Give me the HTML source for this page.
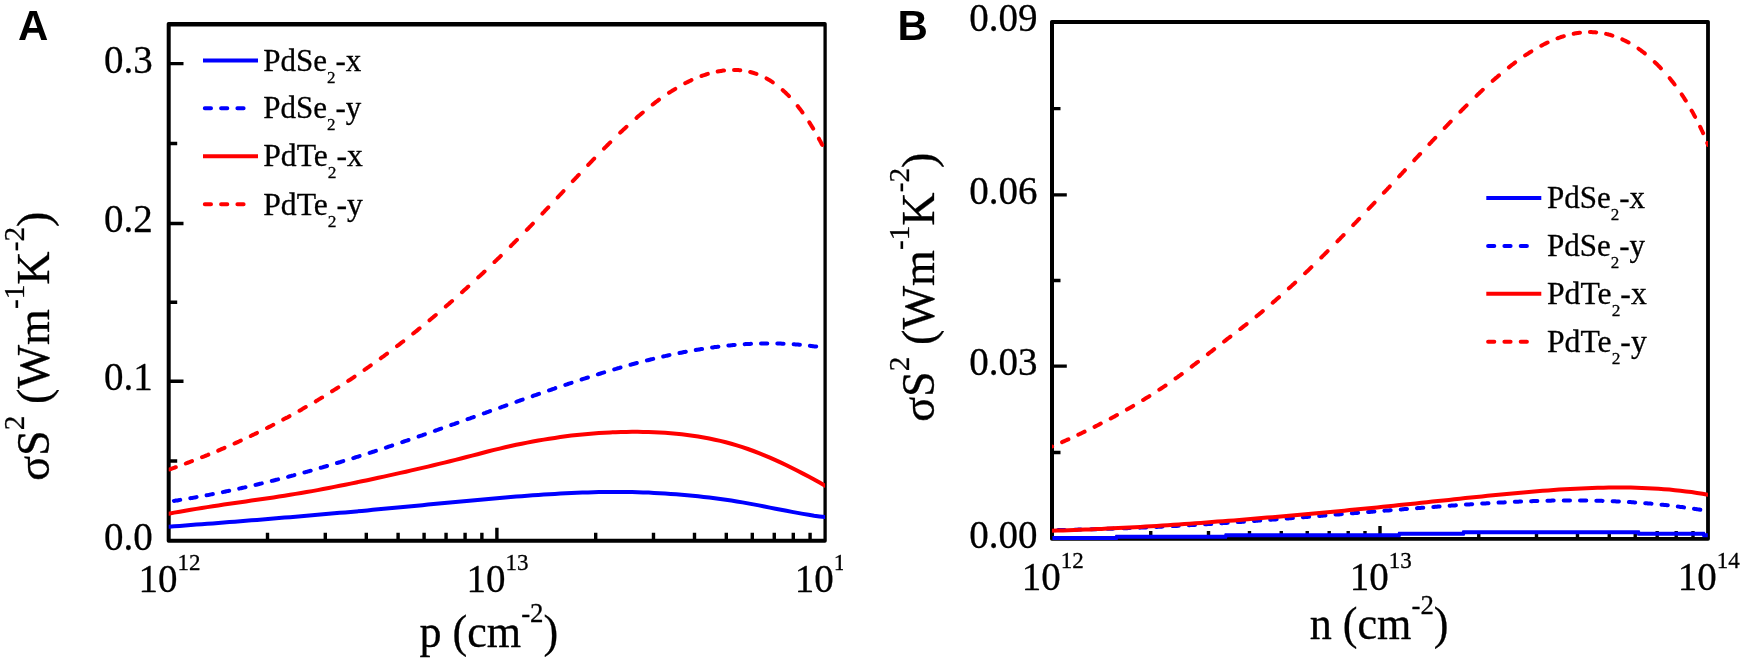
<!DOCTYPE html>
<html lang="en"><head><meta charset="utf-8"><title>Power factor of PdSe2 and PdTe2 monolayers</title>
<style>
html,body{margin:0;padding:0;background:#fff;}
body{width:1743px;height:662px;overflow:hidden;}
svg{display:block;}
svg text{stroke:#000;stroke-width:0.3px;stroke-linejoin:round;}
</style></head><body>
<svg width="1743" height="662" viewBox="0 0 1743 662" font-family='"Liberation Serif", serif' fill="#000" stroke="none">
<rect width="1743" height="662" fill="#fff"/>
<filter id="soft" x="0" y="0" width="100%" height="100%" filterUnits="userSpaceOnUse" color-interpolation-filters="sRGB"><feGaussianBlur stdDeviation="0.55"/></filter>
<g filter="url(#soft)">
<!-- Panel A -->
<path d="M267.50,540.75v-8 M325.29,540.75v-8 M366.30,540.75v-8 M398.10,540.75v-8 M424.09,540.75v-8 M446.06,540.75v-8 M465.09,540.75v-8 M481.88,540.75v-8 M595.70,540.75v-8 M653.49,540.75v-8 M694.50,540.75v-8 M726.30,540.75v-8 M752.29,540.75v-8 M774.26,540.75v-8 M793.29,540.75v-8 M810.08,540.75v-8 M496.90,540.75v-13 M168.70,381.20h14.8 M168.70,223.45h14.8 M168.70,63.65h14.8 M168.70,461.00h8.5 M168.70,302.30h8.5 M168.70,143.50h8.5" stroke="#000" stroke-width="3.4" fill="none"/>
<path fill="#000" fill-rule="evenodd" d="M168.50,22.00H824.95Q826.75,22.00 826.75,23.80V541.05Q826.75,542.85 824.95,542.85H168.50Q166.70,542.85 166.70,541.05V23.80Q166.70,22.00 168.50,22.00Z M170.70,26.40V538.65H823.45V26.40Z"/>
<clipPath id="clipA"><rect x="168.7" y="24.2" width="656.40" height="519.55"/></clipPath>
<g clip-path="url(#clipA)" fill="none" stroke-width="4.0" stroke-linecap="round">
<path d="M168.7,526.7 L174.2,526.3 L179.7,525.9 L185.2,525.5 L190.8,525.1 L196.3,524.6 L201.8,524.2 L207.3,523.8 L212.8,523.4 L218.3,523.0 L223.9,522.5 L229.4,522.1 L234.9,521.7 L240.4,521.2 L245.9,520.8 L251.4,520.3 L257.0,519.9 L262.5,519.5 L268.0,519.0 L273.5,518.5 L279.0,518.1 L284.5,517.6 L290.1,517.2 L295.6,516.7 L301.1,516.2 L306.6,515.7 L312.1,515.3 L317.6,514.8 L323.1,514.3 L328.7,513.8 L334.2,513.3 L339.7,512.8 L345.2,512.4 L350.7,511.9 L356.2,511.4 L361.8,510.9 L367.3,510.4 L372.8,509.8 L378.3,509.3 L383.8,508.8 L389.3,508.3 L394.9,507.8 L400.4,507.3 L405.9,506.7 L411.4,506.2 L416.9,505.7 L422.4,505.2 L428.0,504.6 L433.5,504.1 L439.0,503.6 L444.5,503.0 L450.0,502.5 L455.5,502.0 L461.0,501.5 L466.6,501.0 L472.1,500.4 L477.6,499.9 L483.1,499.4 L488.6,498.9 L494.1,498.5 L499.7,498.0 L505.2,497.5 L510.7,497.1 L516.2,496.6 L521.7,496.2 L527.2,495.7 L532.8,495.3 L538.3,494.9 L543.8,494.6 L549.3,494.2 L554.8,493.9 L560.3,493.6 L565.8,493.3 L571.4,493.0 L576.9,492.8 L582.4,492.6 L587.9,492.4 L593.4,492.2 L598.9,492.1 L604.5,492.0 L610.0,492.0 L615.5,492.0 L621.0,492.0 L626.5,492.0 L632.0,492.1 L637.6,492.3 L643.1,492.4 L648.6,492.6 L654.1,492.9 L659.6,493.2 L665.1,493.5 L670.7,493.9 L676.2,494.3 L681.7,494.7 L687.2,495.2 L692.7,495.7 L698.2,496.3 L703.7,496.9 L709.3,497.6 L714.8,498.3 L720.3,499.0 L725.8,499.8 L731.3,500.6 L736.8,501.5 L742.4,502.4 L747.9,503.4 L753.4,504.4 L758.9,505.4 L764.4,506.5 L769.9,507.6 L775.5,508.7 L781.0,509.8 L786.5,510.8 L792.0,511.9 L797.5,512.9 L803.0,513.9 L808.6,514.8 L814.1,515.7 L819.6,516.4 L825.1,517.1" stroke="#0000ff"/>
<path d="M173.9,500.9 L174.8,500.8 L175.8,500.6 L176.6,500.5 L177.5,500.4 L178.4,500.2 L179.3,500.1 L180.2,499.9 M190.3,498.2 L191.2,498.1 L192.1,497.9 L193.0,497.8 L193.9,497.6 L194.8,497.4 L195.7,497.3 L196.6,497.1 M206.6,495.3 L207.5,495.1 L208.4,494.9 L209.3,494.8 L210.2,494.6 L211.1,494.4 L212.0,494.2 L212.9,494.1 M222.9,492.1 L223.8,491.9 L224.7,491.7 L225.6,491.5 L226.5,491.3 L227.4,491.1 L228.3,490.9 L229.2,490.8 M239.2,488.6 L240.1,488.4 L241.0,488.2 L241.9,488.0 L242.8,487.8 L243.7,487.6 L244.6,487.4 L245.5,487.2 M255.5,484.9 L256.4,484.7 L257.3,484.5 L258.2,484.3 L259.1,484.0 L260.0,483.8 L260.9,483.6 L261.8,483.4 M271.8,480.9 L272.7,480.7 L273.6,480.5 L274.5,480.3 L275.4,480.0 L276.3,479.8 L277.2,479.6 L278.1,479.4 M288.1,476.8 L289.0,476.5 L289.9,476.3 L290.8,476.1 L291.7,475.8 L292.6,475.6 L293.5,475.4 L294.4,475.1 M304.4,472.4 L305.3,472.2 L306.2,471.9 L307.1,471.7 L308.0,471.4 L308.9,471.2 L309.8,470.9 L310.7,470.7 M320.7,467.8 L321.6,467.6 L322.5,467.3 L323.4,467.0 L324.3,466.8 L325.2,466.5 L326.1,466.3 L327.0,466.0 M337.0,463.0 L337.9,462.8 L338.8,462.5 L339.7,462.2 L340.6,462.0 L341.5,461.7 L342.4,461.4 L343.3,461.1 M353.3,458.1 L354.2,457.8 L355.1,457.5 L356.0,457.2 L356.9,456.9 L357.8,456.7 L358.7,456.4 L359.6,456.1 M369.6,452.9 L370.5,452.6 L371.4,452.3 L372.3,452.0 L373.2,451.7 L374.1,451.5 L375.0,451.2 L375.9,450.9 M385.9,447.6 L386.8,447.3 L387.7,447.0 L388.6,446.7 L389.5,446.4 L390.4,446.1 L391.3,445.8 L392.2,445.5 M402.2,442.1 L403.1,441.8 L404.0,441.5 L404.9,441.2 L405.8,440.9 L406.7,440.6 L407.6,440.3 L408.5,440.0 M418.6,436.5 L419.5,436.2 L420.4,435.9 L421.3,435.6 L422.2,435.3 L423.1,434.9 L424.0,434.6 L424.9,434.3 M434.9,430.8 L435.8,430.5 L436.7,430.2 L437.6,429.9 L438.5,429.5 L439.4,429.2 L440.3,428.9 L441.2,428.6 M451.2,425.0 L452.1,424.7 L453.0,424.4 L453.9,424.1 L454.8,423.8 L455.7,423.4 L456.6,423.1 L457.5,422.8 M467.5,419.2 L468.4,418.9 L469.3,418.6 L470.2,418.3 L471.1,417.9 L472.0,417.6 L472.9,417.3 L473.8,417.0 M483.8,413.4 L484.7,413.1 L485.6,412.8 L486.5,412.4 L487.4,412.1 L488.3,411.8 L489.2,411.5 L490.1,411.1 M500.1,407.6 L501.0,407.3 L501.9,406.9 L502.8,406.6 L503.7,406.3 L504.6,406.0 L505.5,405.7 L506.4,405.3 M516.4,401.8 L517.3,401.5 L518.2,401.1 L519.1,400.8 L520.0,400.5 L520.9,400.2 L521.8,399.9 L522.7,399.6 M532.7,396.1 L533.6,395.7 L534.5,395.4 L535.4,395.1 L536.3,394.8 L537.2,394.5 L538.1,394.2 L539.0,393.9 M549.0,390.4 L549.9,390.1 L550.8,389.8 L551.7,389.5 L552.6,389.2 L553.5,388.9 L554.4,388.6 L555.3,388.2 M565.3,384.9 L566.2,384.6 L567.1,384.3 L568.0,384.0 L568.9,383.7 L569.8,383.4 L570.7,383.1 L571.6,382.8 M581.6,379.5 L582.5,379.2 L583.4,378.9 L584.3,378.6 L585.2,378.3 L586.1,378.0 L587.0,377.8 L587.9,377.5 M597.9,374.3 L598.8,374.0 L599.7,373.8 L600.6,373.5 L601.5,373.2 L602.4,372.9 L603.3,372.6 L604.2,372.4 M614.2,369.4 L615.1,369.1 L616.0,368.9 L616.9,368.6 L617.8,368.3 L618.7,368.1 L619.6,367.8 L620.5,367.5 M630.5,364.7 L631.4,364.5 L632.3,364.2 L633.2,364.0 L634.1,363.8 L635.0,363.5 L635.9,363.3 L636.8,363.0 M646.9,360.4 L647.8,360.2 L648.7,360.0 L649.6,359.8 L650.5,359.5 L651.4,359.3 L652.3,359.1 L653.2,358.9 M663.2,356.5 L664.1,356.3 L665.0,356.1 L665.9,355.9 L666.8,355.7 L667.7,355.5 L668.6,355.3 L669.5,355.1 M679.5,353.0 L680.4,352.8 L681.3,352.7 L682.2,352.5 L683.1,352.3 L684.0,352.1 L684.9,352.0 L685.8,351.8 M695.8,350.0 L696.7,349.8 L697.6,349.7 L698.5,349.5 L699.4,349.4 L700.3,349.2 L701.2,349.1 L702.1,349.0 M712.1,347.5 L713.0,347.4 L713.9,347.2 L714.8,347.1 L715.7,347.0 L716.6,346.9 L717.5,346.8 L718.4,346.7 M728.4,345.5 L729.3,345.4 L730.2,345.4 L731.1,345.3 L732.0,345.2 L732.9,345.1 L733.8,345.0 L734.7,344.9 M744.7,344.2 L745.6,344.1 L746.5,344.1 L747.4,344.0 L748.3,344.0 L749.2,343.9 L750.1,343.9 L751.0,343.8 M761.0,343.5 L761.9,343.5 L762.8,343.5 L763.7,343.5 L764.6,343.4 L765.5,343.4 L766.4,343.4 L767.3,343.4 M777.3,343.5 L778.2,343.5 L779.1,343.6 L780.0,343.6 L780.9,343.6 L781.8,343.7 L782.7,343.7 L783.6,343.7 M793.6,344.3 L794.5,344.3 L795.4,344.4 L796.3,344.5 L797.2,344.5 L798.1,344.6 L799.0,344.7 L799.9,344.8 M809.9,345.8 L810.8,345.9 L811.7,346.0 L812.6,346.2 L813.5,346.3 L814.4,346.4 L815.3,346.5 L816.2,346.6" stroke="#0000ff"/>
<path d="M168.7,513.7 L174.2,512.6 L179.7,511.7 L185.2,510.7 L190.8,509.8 L196.3,508.9 L201.8,508.0 L207.3,507.1 L212.8,506.2 L218.3,505.4 L223.9,504.6 L229.4,503.8 L234.9,503.0 L240.4,502.2 L245.9,501.4 L251.4,500.6 L257.0,499.8 L262.5,499.0 L268.0,498.2 L273.5,497.4 L279.0,496.6 L284.5,495.7 L290.1,494.8 L295.6,493.9 L301.1,493.0 L306.6,492.0 L312.1,491.1 L317.6,490.1 L323.1,489.0 L328.7,488.0 L334.2,486.9 L339.7,485.8 L345.2,484.7 L350.7,483.6 L356.2,482.5 L361.8,481.3 L367.3,480.2 L372.8,479.0 L378.3,477.8 L383.8,476.6 L389.3,475.4 L394.9,474.1 L400.4,472.9 L405.9,471.7 L411.4,470.4 L416.9,469.1 L422.4,467.9 L428.0,466.6 L433.5,465.3 L439.0,463.9 L444.5,462.6 L450.0,461.2 L455.5,459.9 L461.0,458.5 L466.6,457.0 L472.1,455.6 L477.6,454.2 L483.1,452.7 L488.6,451.3 L494.1,449.9 L499.7,448.6 L505.2,447.3 L510.7,446.0 L516.2,444.8 L521.7,443.7 L527.2,442.6 L532.8,441.5 L538.3,440.5 L543.8,439.6 L549.3,438.7 L554.8,437.9 L560.3,437.1 L565.8,436.3 L571.4,435.6 L576.9,435.0 L582.4,434.4 L587.9,433.9 L593.4,433.4 L598.9,433.0 L604.5,432.7 L610.0,432.4 L615.5,432.2 L621.0,432.0 L626.5,431.9 L632.0,431.8 L637.6,431.8 L643.1,431.9 L648.6,432.0 L654.1,432.2 L659.6,432.4 L665.1,432.8 L670.7,433.2 L676.2,433.7 L681.7,434.3 L687.2,434.9 L692.7,435.7 L698.2,436.5 L703.7,437.5 L709.3,438.5 L714.8,439.7 L720.3,440.9 L725.8,442.3 L731.3,443.8 L736.8,445.4 L742.4,447.1 L747.9,449.0 L753.4,451.0 L758.9,453.1 L764.4,455.3 L769.9,457.6 L775.5,460.1 L781.0,462.6 L786.5,465.2 L792.0,468.0 L797.5,470.8 L803.0,473.6 L808.6,476.6 L814.1,479.5 L819.6,482.6 L825.1,485.7" stroke="#ff0000"/>
<path d="M169.5,469.4 L170.4,469.1 L171.3,468.8 L172.2,468.5 L173.1,468.1 L174.0,467.8 L174.9,467.5 L175.8,467.2 M185.8,463.5 L186.6,463.2 L187.5,462.8 L188.4,462.5 L189.3,462.2 L190.2,461.8 L191.1,461.5 L192.0,461.1 M202.0,457.2 L202.9,456.9 L203.8,456.5 L204.7,456.2 L205.6,455.8 L206.5,455.4 L207.4,455.1 L208.3,454.7 M218.2,450.6 L219.1,450.2 L220.0,449.8 L220.9,449.4 L221.8,449.0 L222.8,448.7 L223.6,448.3 L224.5,447.9 M234.5,443.5 L235.4,443.1 L236.3,442.7 L237.2,442.3 L238.1,441.9 L239.0,441.5 L239.9,441.0 L240.8,440.6 M250.8,436.0 L251.6,435.6 L252.5,435.1 L253.4,434.7 L254.3,434.3 L255.2,433.8 L256.1,433.4 L257.0,432.9 M267.0,428.0 L267.9,427.6 L268.8,427.1 L269.7,426.7 L270.6,426.2 L271.5,425.7 L272.4,425.3 L273.3,424.8 M283.2,419.6 L284.1,419.1 L285.0,418.6 L285.9,418.1 L286.8,417.7 L287.8,417.2 L288.6,416.7 L289.5,416.2 M299.5,410.7 L300.4,410.2 L301.3,409.7 L302.2,409.1 L303.1,408.6 L304.0,408.1 L304.9,407.6 L305.8,407.1 M315.8,401.3 L316.6,400.7 L317.6,400.2 L318.5,399.6 L319.4,399.1 L320.2,398.6 L321.1,398.0 L322.1,397.5 M332.0,391.3 L332.9,390.8 L333.8,390.2 L334.7,389.6 L335.6,389.1 L336.5,388.5 L337.4,387.9 L338.3,387.3 M348.2,380.9 L349.1,380.3 L350.1,379.7 L351.0,379.1 L351.9,378.5 L352.8,377.9 L353.6,377.3 L354.6,376.6 M364.5,369.8 L365.4,369.2 L366.3,368.6 L367.2,367.9 L368.1,367.3 L369.0,366.7 L369.9,366.0 L370.8,365.4 M380.8,358.3 L381.6,357.6 L382.6,356.9 L383.5,356.3 L384.4,355.6 L385.2,355.0 L386.1,354.3 L387.1,353.6 M397.0,346.1 L397.9,345.5 L398.8,344.8 L399.7,344.1 L400.6,343.4 L401.5,342.7 L402.4,342.0 L403.3,341.3 M413.2,333.5 L414.1,332.8 L415.1,332.0 L416.0,331.3 L416.9,330.6 L417.8,329.9 L418.6,329.1 L419.6,328.4 M429.5,320.3 L430.4,319.5 L431.3,318.8 L432.2,318.0 L433.1,317.3 L434.0,316.5 L434.9,315.7 L435.8,315.0 M445.8,306.5 L446.6,305.7 L447.6,304.9 L448.4,304.2 L449.4,303.4 L450.2,302.6 L451.2,301.8 L452.1,301.0 M462.0,292.2 L462.9,291.4 L463.8,290.6 L464.7,289.8 L465.6,289.0 L466.5,288.2 L467.4,287.3 L468.3,286.5 M478.2,277.4 L479.1,276.5 L480.1,275.7 L480.9,274.9 L481.9,274.0 L482.8,273.2 L483.7,272.3 L484.6,271.5 M494.5,262.0 L495.4,261.1 L496.3,260.3 L497.2,259.4 L498.1,258.5 L499.0,257.7 L499.9,256.8 L500.8,255.9 M510.8,246.1 L511.6,245.2 L512.5,244.3 L513.4,243.4 L514.3,242.5 L515.2,241.6 L516.1,240.7 L517.0,239.8 M526.8,229.9 L527.7,229.0 L528.6,228.1 L529.4,227.2 L530.3,226.3 L531.2,225.4 L532.0,224.5 L532.9,223.6 M542.4,213.6 L543.2,212.7 L544.1,211.8 L544.9,210.9 L545.8,210.0 L546.6,209.1 L547.5,208.2 L548.3,207.3 M557.7,197.4 L558.5,196.5 L559.3,195.6 L560.2,194.7 L561.0,193.8 L561.9,192.9 L562.7,192.0 L563.5,191.1 M572.8,181.1 L573.7,180.2 L574.5,179.3 L575.4,178.4 L576.2,177.5 L577.1,176.6 L577.9,175.7 L578.8,174.8 M588.2,164.9 L589.0,164.0 L589.9,163.1 L590.8,162.2 L591.6,161.3 L592.5,160.4 L593.4,159.5 L594.2,158.6 M604.0,148.6 L604.9,147.7 L605.8,146.8 L606.7,145.9 L607.6,145.0 L608.5,144.1 L609.4,143.2 L610.3,142.3 M620.2,132.7 L621.1,131.8 L622.0,131.0 L622.9,130.1 L623.8,129.3 L624.7,128.5 L625.6,127.6 L626.5,126.8 M636.5,117.9 L637.4,117.1 L638.3,116.3 L639.2,115.5 L640.1,114.8 L641.0,114.0 L641.9,113.2 L642.8,112.5 M652.7,104.5 L653.6,103.8 L654.5,103.1 L655.4,102.4 L656.3,101.7 L657.2,101.1 L658.1,100.4 L659.0,99.7 M669.0,92.8 L669.9,92.3 L670.8,91.7 L671.7,91.1 L672.6,90.5 L673.5,90.0 L674.4,89.4 L675.3,88.9 M685.2,83.2 L686.1,82.8 L687.0,82.3 L687.9,81.9 L688.8,81.4 L689.7,81.0 L690.6,80.6 L691.5,80.1 M701.5,76.0 L702.4,75.7 L703.3,75.4 L704.2,75.1 L705.1,74.8 L706.0,74.5 L706.9,74.2 L707.8,73.9 M717.7,71.5 L718.6,71.3 L719.5,71.2 L720.4,71.0 L721.3,70.9 L722.2,70.7 L723.1,70.6 L724.0,70.5 M734.0,70.0 L734.9,70.0 L735.8,70.0 L736.7,70.0 L737.6,70.1 L738.5,70.1 L739.4,70.2 L740.3,70.3 M750.2,72.0 L751.1,72.2 L752.0,72.5 L752.9,72.8 L753.8,73.0 L754.7,73.3 L755.6,73.6 L756.5,73.9 M766.5,78.4 L767.4,78.9 L768.3,79.5 L769.2,80.0 L770.1,80.5 L771.0,81.1 L771.9,81.7 L772.8,82.3 M782.7,90.1 L783.6,90.9 L784.5,91.7 L785.4,92.6 L786.3,93.4 L787.2,94.3 L788.1,95.2 L789.0,96.1 M797.7,106.1 L798.4,107.0 L799.1,107.9 L799.8,108.8 L800.5,109.7 L801.2,110.6 L801.8,111.5 L802.5,112.4 M809.3,122.3 L809.8,123.2 L810.4,124.1 L811.0,125.0 L811.5,125.9 L812.1,126.8 L812.6,127.7 L813.2,128.6 M818.9,138.6 L819.3,139.5 L819.8,140.4 L820.3,141.3 L820.8,142.2 L821.3,143.1 L821.7,144.0 L822.2,144.9" stroke="#ff0000"/>
</g>
<text x="152.7" y="549.8" font-size="39" text-anchor="end">0.0</text>
<text x="152.7" y="390.2" font-size="39" text-anchor="end">0.1</text>
<text x="152.7" y="232.4" font-size="39" text-anchor="end">0.2</text>
<text x="152.7" y="72.7" font-size="39" text-anchor="end">0.3</text>
<text x="138.4" y="592.2" font-size="39">10<tspan font-size="23" dy="-22">12</tspan></text>
<text x="466.6" y="592.2" font-size="39">10<tspan font-size="23" dy="-22">13</tspan></text>
<clipPath id="cropA"><rect x="780" y="545" width="63" height="60"/></clipPath>
<g clip-path="url(#cropA)">
<text x="794.8" y="592.2" font-size="39">10<tspan font-size="23" dy="-22">14</tspan></text>
</g>
<path d="M203.0,60.4h55" stroke="#0000ff" stroke-width="4.0" fill="none"/>
<text transform="translate(263.2,70.6) scale(1,1)" font-size="31">PdSe<tspan font-size="17" dy="12">2</tspan><tspan dy="-12">-x</tspan></text>
<path d="M204.8,108.2h39.2" stroke="#0000ff" stroke-width="4.0" stroke-dasharray="6.2 10.1" stroke-linecap="round" fill="none"/>
<text transform="translate(263.2,118.4) scale(1,1)" font-size="31">PdSe<tspan font-size="17" dy="12">2</tspan><tspan dy="-12">-y</tspan></text>
<path d="M203.0,156.2h55" stroke="#ff0000" stroke-width="4.0" fill="none"/>
<text transform="translate(263.2,166.4) scale(1.022,1)" font-size="31">PdTe<tspan font-size="17" dy="12">2</tspan><tspan dy="-12">-x</tspan></text>
<path d="M204.8,204.3h39.2" stroke="#ff0000" stroke-width="4.0" stroke-dasharray="6.2 10.1" stroke-linecap="round" fill="none"/>
<text transform="translate(263.2,214.5) scale(1.022,1)" font-size="31">PdTe<tspan font-size="17" dy="12">2</tspan><tspan dy="-12">-y</tspan></text>
<text transform="translate(48.7,480.8) rotate(-90)" font-size="46.2">σS<tspan font-size="29.3" dy="-25.1">2</tspan><tspan dy="25.1"> (Wm</tspan><tspan font-size="29.3" dy="-25.1">-1</tspan><tspan dy="25.1">K</tspan><tspan font-size="29.3" dy="-25.1">-2</tspan><tspan dy="25.1">)</tspan></text>
<text transform="translate(419.4,647.2) scale(0.96,1)" font-size="46">p (cm<tspan font-size="28" dy="-25">-2</tspan><tspan dy="25">)</tspan></text>
<text x="18.1" y="39.6" font-family='"Liberation Sans", sans-serif' font-weight="bold" font-size="42" style="stroke:none">A</text>
<!-- Panel B -->
<path d="M1150.74,538.90v-8 M1208.50,538.90v-8 M1249.48,538.90v-8 M1281.26,538.90v-8 M1307.23,538.90v-8 M1329.19,538.90v-8 M1348.21,538.90v-8 M1364.99,538.90v-8 M1478.74,538.90v-8 M1536.50,538.90v-8 M1577.48,538.90v-8 M1609.26,538.90v-8 M1635.23,538.90v-8 M1657.19,538.90v-8 M1676.21,538.90v-8 M1692.99,538.90v-8 M1380.00,538.90v-13 M1052.00,366.10h14.8 M1052.00,194.85h14.8 M1052.00,22.00h14.8 M1052.00,452.50h8.5 M1052.00,280.50h8.5 M1052.00,108.60h8.5" stroke="#000" stroke-width="3.4" fill="none"/>
<path fill="#000" fill-rule="evenodd" d="M1051.80,20.00H1708.10Q1709.90,20.00 1709.90,21.80V539.00Q1709.90,540.80 1708.10,540.80H1051.80Q1050.00,540.80 1050.00,539.00V21.80Q1050.00,20.00 1051.80,20.00Z M1054.00,24.00V537.00H1706.10V24.00Z"/>
<clipPath id="clipB"><rect x="1052.0" y="22.0" width="656.00" height="519.90"/></clipPath>
<g clip-path="url(#clipB)" fill="none" stroke-width="4.0" stroke-linecap="round">
<path d="M1052.4,538.1 L1116.2,538.1 L1116.8,536.7 L1225.5,536.7 L1226.1,535.3 L1399.0,535.3 L1399.6,533.8 L1463.2,533.8 L1463.8,532.3 L1638.3,532.3 L1638.9,533.8 L1703.4,533.8 L1704.0,535.3 L1707.8,535.3" stroke="#0000ff" stroke-linecap="butt"/>
<path d="M1058.3,530.0 L1059.2,530.0 L1060.2,530.0 L1061.0,530.0 L1062.0,530.0 L1062.8,530.0 L1063.8,529.9 L1064.7,529.9 M1074.7,529.7 L1075.5,529.7 L1076.5,529.7 L1077.3,529.7 L1078.2,529.6 L1079.2,529.6 L1080.0,529.6 L1081.0,529.6 M1091.0,529.3 L1091.8,529.3 L1092.8,529.3 L1093.7,529.2 L1094.5,529.2 L1095.5,529.2 L1096.3,529.2 L1097.2,529.1 M1107.2,528.8 L1108.2,528.8 L1109.0,528.8 L1110.0,528.8 L1110.8,528.7 L1111.8,528.7 L1112.7,528.7 L1113.5,528.6 M1123.5,528.3 L1124.5,528.3 L1125.3,528.2 L1126.2,528.2 L1127.2,528.2 L1128.0,528.1 L1129.0,528.1 L1129.8,528.0 M1139.8,527.7 L1140.8,527.6 L1141.7,527.6 L1142.5,527.5 L1143.5,527.5 L1144.3,527.5 L1145.2,527.4 L1146.2,527.4 M1156.2,526.9 L1157.0,526.9 L1158.0,526.8 L1158.8,526.8 L1159.8,526.8 L1160.7,526.7 L1161.5,526.7 L1162.5,526.6 M1172.5,526.1 L1173.3,526.1 L1174.2,526.0 L1175.2,526.0 L1176.0,525.9 L1177.0,525.9 L1177.8,525.8 L1178.8,525.8 M1188.8,525.2 L1189.7,525.2 L1190.5,525.1 L1191.5,525.1 L1192.3,525.0 L1193.2,525.0 L1194.2,524.9 L1195.0,524.9 M1205.0,524.3 L1206.0,524.2 L1206.8,524.2 L1207.8,524.1 L1208.7,524.0 L1209.5,524.0 L1210.5,523.9 L1211.3,523.9 M1221.3,523.2 L1222.2,523.2 L1223.2,523.1 L1224.0,523.0 L1225.0,523.0 L1225.8,522.9 L1226.8,522.9 L1227.7,522.8 M1237.7,522.1 L1238.5,522.1 L1239.5,522.0 L1240.4,521.9 L1241.2,521.9 L1242.2,521.8 L1243.0,521.7 L1244.0,521.7 M1254.0,521.0 L1254.9,520.9 L1255.8,520.8 L1256.7,520.8 L1257.5,520.7 L1258.5,520.6 L1259.4,520.6 L1260.2,520.5 M1270.2,519.8 L1271.2,519.7 L1272.1,519.6 L1273.0,519.6 L1273.9,519.5 L1274.8,519.4 L1275.7,519.4 L1276.6,519.3 M1286.6,518.5 L1287.5,518.5 L1288.4,518.4 L1289.2,518.3 L1290.2,518.2 L1291.1,518.2 L1292.0,518.1 L1292.9,518.0 M1302.9,517.3 L1303.8,517.2 L1304.7,517.1 L1305.6,517.0 L1306.5,517.0 L1307.4,516.9 L1308.2,516.8 L1309.2,516.8 M1319.2,516.0 L1320.1,515.9 L1321.0,515.8 L1321.9,515.7 L1322.8,515.7 L1323.7,515.6 L1324.6,515.5 L1325.5,515.5 M1335.5,514.6 L1336.4,514.6 L1337.2,514.5 L1338.2,514.4 L1339.1,514.4 L1340.0,514.3 L1340.9,514.2 L1341.8,514.1 M1351.8,513.3 L1352.7,513.3 L1353.6,513.2 L1354.5,513.1 L1355.4,513.0 L1356.2,513.0 L1357.2,512.9 L1358.1,512.8 M1368.1,512.0 L1369.0,511.9 L1369.9,511.9 L1370.8,511.8 L1371.7,511.7 L1372.6,511.7 L1373.5,511.6 L1374.4,511.5 M1384.4,510.7 L1385.2,510.6 L1386.2,510.6 L1387.1,510.5 L1388.0,510.4 L1388.9,510.4 L1389.8,510.3 L1390.7,510.2 M1400.7,509.4 L1401.6,509.4 L1402.5,509.3 L1403.4,509.2 L1404.3,509.1 L1405.2,509.1 L1406.1,509.0 L1407.0,508.9 M1417.0,508.2 L1417.9,508.1 L1418.8,508.0 L1419.7,508.0 L1420.6,507.9 L1421.5,507.8 L1422.4,507.7 L1423.3,507.7 M1433.3,506.9 L1434.2,506.9 L1435.1,506.8 L1436.0,506.7 L1436.9,506.7 L1437.8,506.6 L1438.7,506.5 L1439.6,506.5 M1449.6,505.7 L1450.5,505.7 L1451.4,505.6 L1452.3,505.5 L1453.2,505.5 L1454.1,505.4 L1455.0,505.4 L1455.9,505.3 M1465.9,504.6 L1466.8,504.6 L1467.7,504.5 L1468.6,504.4 L1469.5,504.4 L1470.4,504.3 L1471.3,504.3 L1472.2,504.2 M1482.2,503.6 L1483.1,503.5 L1484.0,503.5 L1484.9,503.4 L1485.8,503.4 L1486.7,503.3 L1487.6,503.2 L1488.5,503.2 M1498.5,502.6 L1499.4,502.6 L1500.3,502.5 L1501.2,502.5 L1502.1,502.4 L1503.0,502.4 L1503.9,502.4 L1504.8,502.3 M1514.8,501.8 L1515.7,501.8 L1516.6,501.8 L1517.5,501.7 L1518.4,501.7 L1519.3,501.6 L1520.2,501.6 L1521.1,501.6 M1531.1,501.2 L1532.0,501.2 L1532.9,501.1 L1533.8,501.1 L1534.7,501.1 L1535.6,501.0 L1536.5,501.0 L1537.4,501.0 M1547.4,500.7 L1548.3,500.7 L1549.2,500.7 L1550.1,500.7 L1551.0,500.7 L1551.9,500.6 L1552.8,500.6 L1553.7,500.6 M1563.7,500.5 L1564.6,500.5 L1565.5,500.5 L1566.4,500.5 L1567.3,500.5 L1568.2,500.5 L1569.1,500.4 L1570.0,500.4 M1580.0,500.5 L1580.9,500.5 L1581.8,500.5 L1582.7,500.5 L1583.6,500.5 L1584.5,500.5 L1585.4,500.5 L1586.3,500.5 M1596.3,500.7 L1597.2,500.7 L1598.1,500.7 L1599.0,500.8 L1599.9,500.8 L1600.8,500.8 L1601.7,500.8 L1602.6,500.9 M1612.6,501.2 L1613.5,501.2 L1614.4,501.3 L1615.2,501.3 L1616.2,501.4 L1617.1,501.4 L1618.0,501.4 L1618.9,501.5 M1628.9,502.0 L1629.8,502.1 L1630.7,502.1 L1631.6,502.2 L1632.5,502.2 L1633.4,502.3 L1634.2,502.4 L1635.2,502.4 M1645.2,503.2 L1646.1,503.2 L1647.0,503.3 L1647.8,503.4 L1648.8,503.5 L1649.7,503.5 L1650.6,503.6 L1651.5,503.7 M1661.5,504.7 L1662.3,504.7 L1663.2,504.8 L1664.2,504.9 L1665.1,505.0 L1666.0,505.1 L1666.8,505.2 L1667.8,505.3 M1677.8,506.5 L1678.7,506.6 L1679.5,506.8 L1680.4,506.9 L1681.3,507.0 L1682.2,507.1 L1683.2,507.2 L1684.0,507.4 M1694.0,508.8 L1694.9,508.9 L1695.8,509.1 L1696.8,509.2 L1697.7,509.4 L1698.5,509.5 L1699.4,509.6 L1700.3,509.8" stroke="#0000ff"/>
<path d="M1052.0,530.8 L1057.5,530.6 L1063.0,530.5 L1068.5,530.3 L1074.1,530.1 L1079.6,529.8 L1085.1,529.6 L1090.6,529.4 L1096.1,529.1 L1101.6,528.9 L1107.1,528.6 L1112.6,528.3 L1118.2,528.1 L1123.7,527.8 L1129.2,527.5 L1134.7,527.2 L1140.2,526.9 L1145.7,526.5 L1151.2,526.2 L1156.7,525.9 L1162.3,525.5 L1167.8,525.2 L1173.3,524.8 L1178.8,524.4 L1184.3,524.0 L1189.8,523.7 L1195.3,523.3 L1200.8,522.9 L1206.4,522.5 L1211.9,522.1 L1217.4,521.6 L1222.9,521.2 L1228.4,520.8 L1233.9,520.4 L1239.4,519.9 L1244.9,519.5 L1250.5,519.0 L1256.0,518.6 L1261.5,518.1 L1267.0,517.6 L1272.5,517.2 L1278.0,516.7 L1283.5,516.2 L1289.0,515.7 L1294.6,515.2 L1300.1,514.7 L1305.6,514.2 L1311.1,513.7 L1316.6,513.2 L1322.1,512.7 L1327.6,512.2 L1333.1,511.7 L1338.7,511.2 L1344.2,510.7 L1349.7,510.1 L1355.2,509.6 L1360.7,509.1 L1366.2,508.5 L1371.7,508.0 L1377.2,507.4 L1382.8,506.8 L1388.3,506.3 L1393.8,505.7 L1399.3,505.1 L1404.8,504.6 L1410.3,504.0 L1415.8,503.4 L1421.3,502.8 L1426.9,502.2 L1432.4,501.6 L1437.9,501.0 L1443.4,500.4 L1448.9,499.9 L1454.4,499.3 L1459.9,498.7 L1465.4,498.1 L1471.0,497.5 L1476.5,497.0 L1482.0,496.4 L1487.5,495.8 L1493.0,495.3 L1498.5,494.8 L1504.0,494.2 L1509.5,493.7 L1515.1,493.2 L1520.6,492.7 L1526.1,492.2 L1531.6,491.7 L1537.1,491.3 L1542.6,490.8 L1548.1,490.4 L1553.6,490.0 L1559.2,489.6 L1564.7,489.3 L1570.2,489.0 L1575.7,488.7 L1581.2,488.4 L1586.7,488.2 L1592.2,488.0 L1597.7,487.8 L1603.3,487.7 L1608.8,487.6 L1614.3,487.5 L1619.8,487.5 L1625.3,487.6 L1630.8,487.6 L1636.3,487.8 L1641.8,487.9 L1647.4,488.2 L1652.9,488.5 L1658.4,488.8 L1663.9,489.2 L1669.4,489.6 L1674.9,490.2 L1680.4,490.7 L1685.9,491.4 L1691.5,492.1 L1697.0,492.9 L1702.5,493.7 L1708.0,494.7" stroke="#ff0000"/>
<path d="M1052.0,446.6 L1052.0,446.6 L1052.1,446.6 L1052.1,446.6 L1052.1,446.6 L1052.1,446.6 L1052.2,446.6 L1052.2,446.6 M1062.1,442.1 L1063.0,441.7 L1063.9,441.3 L1064.8,440.9 L1065.7,440.5 L1066.6,440.1 L1067.5,439.7 L1068.4,439.3 M1078.3,434.7 L1079.2,434.3 L1080.1,433.8 L1081.0,433.4 L1081.9,433.0 L1082.8,432.5 L1083.7,432.1 L1084.6,431.7 M1094.5,426.8 L1095.4,426.4 L1096.3,425.9 L1097.2,425.5 L1098.1,425.0 L1099.0,424.6 L1099.9,424.1 L1100.8,423.6 M1110.7,418.5 L1111.6,418.0 L1112.5,417.5 L1113.4,417.0 L1114.3,416.6 L1115.2,416.1 L1116.1,415.6 L1117.0,415.1 M1126.9,409.6 L1127.8,409.1 L1128.7,408.5 L1129.6,408.0 L1130.5,407.5 L1131.4,407.0 L1132.3,406.5 L1133.2,405.9 M1143.1,400.0 L1144.0,399.5 L1144.9,398.9 L1145.8,398.3 L1146.7,397.8 L1147.6,397.2 L1148.5,396.7 L1149.4,396.1 M1159.3,389.7 L1160.2,389.1 L1161.1,388.5 L1162.0,387.9 L1162.9,387.3 L1163.8,386.7 L1164.7,386.1 L1165.6,385.5 M1175.5,378.5 L1176.4,377.9 L1177.3,377.3 L1178.2,376.6 L1179.1,375.9 L1180.0,375.3 L1180.9,374.6 L1181.8,374.0 M1191.7,366.6 L1192.6,365.9 L1193.5,365.2 L1194.4,364.5 L1195.3,363.8 L1196.2,363.1 L1197.1,362.4 L1198.0,361.8 M1207.9,354.1 L1208.8,353.4 L1209.7,352.7 L1210.6,352.0 L1211.5,351.3 L1212.4,350.6 L1213.3,349.9 L1214.2,349.2 M1224.1,341.5 L1225.0,340.8 L1225.9,340.1 L1226.8,339.4 L1227.7,338.7 L1228.6,338.0 L1229.5,337.3 L1230.4,336.6 M1240.3,329.0 L1241.2,328.3 L1242.1,327.6 L1243.0,326.9 L1243.9,326.2 L1244.8,325.5 L1245.7,324.8 L1246.6,324.1 M1256.5,316.3 L1257.4,315.5 L1258.3,314.8 L1259.2,314.1 L1260.1,313.3 L1261.0,312.6 L1261.9,311.9 L1262.8,311.1 M1272.7,302.7 L1273.6,301.9 L1274.5,301.2 L1275.4,300.4 L1276.3,299.6 L1277.2,298.8 L1278.1,298.0 L1279.0,297.2 M1288.9,288.3 L1289.8,287.5 L1290.7,286.7 L1291.6,285.9 L1292.5,285.0 L1293.4,284.2 L1294.3,283.4 L1295.2,282.6 M1305.1,273.2 L1306.0,272.4 L1306.9,271.5 L1307.8,270.7 L1308.7,269.8 L1309.6,268.9 L1310.5,268.1 L1311.4,267.2 M1321.3,257.5 L1322.2,256.6 L1323.1,255.7 L1324.0,254.8 L1324.9,253.9 L1325.8,253.0 L1326.7,252.1 L1327.6,251.2 M1337.4,241.3 L1338.3,240.4 L1339.2,239.5 L1340.1,238.6 L1340.9,237.7 L1341.8,236.8 L1342.7,235.9 L1343.6,235.0 M1353.2,225.1 L1354.0,224.2 L1354.9,223.3 L1355.8,222.4 L1356.6,221.5 L1357.5,220.6 L1358.3,219.7 L1359.2,218.8 M1368.6,208.9 L1369.5,208.0 L1370.3,207.1 L1371.2,206.2 L1372.0,205.3 L1372.9,204.4 L1373.7,203.5 L1374.6,202.6 M1383.9,192.7 L1384.7,191.8 L1385.6,190.9 L1386.4,190.0 L1387.3,189.1 L1388.1,188.2 L1389.0,187.3 L1389.8,186.4 M1399.1,176.5 L1399.9,175.6 L1400.7,174.7 L1401.6,173.8 L1402.4,172.9 L1403.3,172.0 L1404.1,171.1 L1404.9,170.2 M1414.2,160.3 L1415.0,159.4 L1415.9,158.5 L1416.7,157.6 L1417.6,156.7 L1418.4,155.8 L1419.2,154.9 L1420.1,154.0 M1429.4,144.1 L1430.2,143.2 L1431.1,142.3 L1431.9,141.4 L1432.8,140.5 L1433.6,139.6 L1434.5,138.7 L1435.3,137.8 M1444.7,127.9 L1445.5,127.0 L1446.4,126.1 L1447.3,125.2 L1448.1,124.3 L1449.0,123.4 L1449.9,122.5 L1450.7,121.6 M1460.4,111.7 L1461.2,110.8 L1462.1,109.9 L1463.0,109.0 L1463.9,108.1 L1464.8,107.2 L1465.7,106.3 L1466.6,105.4 M1476.5,95.8 L1477.4,94.9 L1478.3,94.0 L1479.2,93.2 L1480.1,92.3 L1481.0,91.5 L1481.9,90.6 L1482.8,89.8 M1492.7,80.8 L1493.6,80.0 L1494.5,79.2 L1495.4,78.4 L1496.3,77.7 L1497.2,76.9 L1498.1,76.1 L1499.0,75.4 M1508.9,67.3 L1509.8,66.6 L1510.7,65.9 L1511.6,65.2 L1512.5,64.5 L1513.4,63.8 L1514.3,63.1 L1515.2,62.4 M1525.1,55.4 L1526.0,54.8 L1526.9,54.2 L1527.8,53.7 L1528.7,53.1 L1529.6,52.5 L1530.5,51.9 L1531.4,51.4 M1541.3,45.7 L1542.2,45.2 L1543.1,44.7 L1544.0,44.3 L1544.9,43.8 L1545.8,43.4 L1546.7,42.9 L1547.6,42.5 M1557.5,38.3 L1558.4,38.0 L1559.3,37.7 L1560.2,37.3 L1561.1,37.0 L1562.0,36.7 L1562.9,36.5 L1563.8,36.2 M1573.7,33.7 L1574.6,33.5 L1575.5,33.3 L1576.4,33.2 L1577.3,33.0 L1578.2,32.9 L1579.1,32.8 L1580.0,32.7 M1589.9,32.1 L1590.8,32.1 L1591.7,32.1 L1592.6,32.2 L1593.5,32.2 L1594.4,32.2 L1595.3,32.3 L1596.2,32.4 M1606.1,33.9 L1607.0,34.1 L1607.9,34.3 L1608.8,34.6 L1609.7,34.8 L1610.6,35.0 L1611.5,35.3 L1612.4,35.6 M1622.3,39.4 L1623.2,39.8 L1624.1,40.2 L1625.0,40.7 L1625.9,41.1 L1626.8,41.6 L1627.7,42.0 L1628.6,42.5 M1638.5,48.7 L1639.4,49.3 L1640.3,50.0 L1641.2,50.6 L1642.1,51.3 L1643.0,52.0 L1643.9,52.7 L1644.8,53.4 M1654.7,62.1 L1655.6,63.0 L1656.5,63.8 L1657.4,64.7 L1658.3,65.6 L1659.2,66.5 L1660.1,67.4 L1660.9,68.3 M1669.7,78.2 L1670.4,79.1 L1671.1,80.0 L1671.8,80.9 L1672.6,81.8 L1673.3,82.7 L1674.0,83.6 L1674.6,84.5 M1681.7,94.4 L1682.3,95.3 L1682.9,96.2 L1683.5,97.1 L1684.1,98.0 L1684.6,98.9 L1685.2,99.8 L1685.8,100.7 M1691.6,110.6 L1692.2,111.5 L1692.7,112.4 L1693.2,113.3 L1693.6,114.2 L1694.1,115.1 L1694.6,116.0 L1695.1,116.9 M1700.1,126.8 L1700.6,127.7 L1701.0,128.6 L1701.4,129.5 L1701.8,130.4 L1702.3,131.3 L1702.7,132.2 L1703.1,133.1 M1707.3,143.0 L1707.4,143.3 L1707.5,143.6 L1707.6,143.8 L1707.7,144.1 L1707.8,144.3 L1707.9,144.6 L1708.0,144.8" stroke="#ff0000"/>
</g>
<text x="1037.5" y="547.9" font-size="39" text-anchor="end">0.00</text>
<text x="1037.5" y="375.1" font-size="39" text-anchor="end">0.03</text>
<text x="1037.5" y="203.8" font-size="39" text-anchor="end">0.06</text>
<text x="1037.5" y="31.0" font-size="39" text-anchor="end">0.09</text>
<text x="1021.7" y="589.5" font-size="39">10<tspan font-size="23" dy="-22">12</tspan></text>
<text x="1349.7" y="589.5" font-size="39">10<tspan font-size="23" dy="-22">13</tspan></text>
<text x="1677.7" y="589.5" font-size="39">10<tspan font-size="23" dy="-22">14</tspan></text>
<path d="M1486.3,197.9h55" stroke="#0000ff" stroke-width="4.0" fill="none"/>
<text transform="translate(1547.0,208.1) scale(1,1)" font-size="31">PdSe<tspan font-size="17" dy="12">2</tspan><tspan dy="-12">-x</tspan></text>
<path d="M1488.1,245.9h39.2" stroke="#0000ff" stroke-width="4.0" stroke-dasharray="6.2 10.1" stroke-linecap="round" fill="none"/>
<text transform="translate(1547.0,256.1) scale(1,1)" font-size="31">PdSe<tspan font-size="17" dy="12">2</tspan><tspan dy="-12">-y</tspan></text>
<path d="M1486.3,293.8h55" stroke="#ff0000" stroke-width="4.0" fill="none"/>
<text transform="translate(1547.0,304.0) scale(1.022,1)" font-size="31">PdTe<tspan font-size="17" dy="12">2</tspan><tspan dy="-12">-x</tspan></text>
<path d="M1488.1,341.8h39.2" stroke="#ff0000" stroke-width="4.0" stroke-dasharray="6.2 10.1" stroke-linecap="round" fill="none"/>
<text transform="translate(1547.0,352.0) scale(1.022,1)" font-size="31">PdTe<tspan font-size="17" dy="12">2</tspan><tspan dy="-12">-y</tspan></text>
<text transform="translate(933.7,421.8) rotate(-90)" font-size="46.2">σS<tspan font-size="29.3" dy="-25.1">2</tspan><tspan dy="25.1"> (Wm</tspan><tspan font-size="29.3" dy="-25.1">-1</tspan><tspan dy="25.1">K</tspan><tspan font-size="29.3" dy="-25.1">-2</tspan><tspan dy="25.1">)</tspan></text>
<text transform="translate(1309.7,639.1) scale(0.96,1)" font-size="46">n (cm<tspan font-size="28" dy="-25">-2</tspan><tspan dy="25">)</tspan></text>
<text x="897.5" y="39.6" font-family='"Liberation Sans", sans-serif' font-weight="bold" font-size="42" style="stroke:none">B</text>
</g>
</svg>
</body></html>
